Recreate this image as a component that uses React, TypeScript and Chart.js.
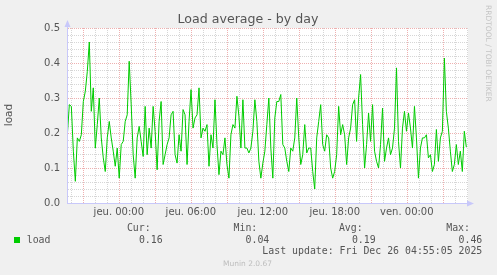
import { useEffect, useRef } from 'react';
import { Chart, registerables } from 'chart.js';

Chart.register(...registerables);

// ---------- data ----------
const TITLE = 'Load average - by day';
const Y_LABEL = 'load';
const SERIES_NAME = 'load';
const WATERMARK = 'RRDTOOL / TOBI OETIKER';
const FOOTER = 'Munin 2.0.67';
const LAST_UPDATE = 'Last update: Fri Dec 26 04:55:05 2025';

// hours relative to "jeu. 00:00"
const X_MIN_HOUR = -4.32;
const X_MAX_HOUR = 29.1;
const FIRST_SAMPLE_HOUR = -4.29;
const SAMPLE_STEP_HOUR = 0.16625;

const LOAD = [
  0.195, 0.281, 0.276, 0.148, 0.062, 0.186, 0.176, 0.195, 0.290, 0.319, 0.376, 0.460, 0.262, 0.329, 0.157, 0.224, 0.300, 0.186, 0.129, 0.090, 0.186, 0.233, 0.186, 0.148, 0.105, 0.157, 0.071, 0.167, 0.176,
  0.233, 0.252, 0.405, 0.281, 0.138, 0.071, 0.186, 0.219, 0.176, 0.133, 0.276, 0.138, 0.214, 0.157, 0.276, 0.205, 0.095, 0.233, 0.290, 0.110, 0.138, 0.167, 0.186, 0.252, 0.262, 0.138, 0.114, 0.195, 0.148,
  0.267, 0.252, 0.110, 0.233, 0.324, 0.214, 0.243, 0.252, 0.329, 0.186, 0.214, 0.205, 0.224, 0.105, 0.195, 0.157, 0.295, 0.167, 0.081, 0.148, 0.138, 0.186, 0.110, 0.071, 0.195, 0.224, 0.214, 0.305, 0.248,
  0.157, 0.295, 0.157, 0.157, 0.143, 0.157, 0.205, 0.295, 0.233, 0.119, 0.071, 0.114, 0.148, 0.224, 0.300, 0.157, 0.071, 0.243, 0.290, 0.290, 0.310, 0.167, 0.157, 0.119, 0.090, 0.157, 0.148, 0.186, 0.300,
  0.186, 0.110, 0.138, 0.224, 0.143, 0.157, 0.157, 0.090, 0.040, 0.186, 0.233, 0.281, 0.167, 0.148, 0.195, 0.186, 0.100, 0.071, 0.090, 0.138, 0.276, 0.195, 0.224, 0.195, 0.110, 0.186, 0.214, 0.281, 0.295,
  0.176, 0.300, 0.367, 0.224, 0.100, 0.167, 0.257, 0.176, 0.281, 0.148, 0.119, 0.100, 0.167, 0.271, 0.119, 0.157, 0.186, 0.138, 0.157, 0.214, 0.386, 0.176, 0.100, 0.214, 0.262, 0.205, 0.257, 0.214, 0.157,
  0.276, 0.186, 0.071, 0.157, 0.186, 0.186, 0.195, 0.129, 0.138, 0.090, 0.110, 0.210, 0.119, 0.186, 0.205, 0.414, 0.262, 0.214, 0.148, 0.090, 0.110, 0.167, 0.110, 0.148, 0.090, 0.205, 0.160,
];

const X_TICK_HOURS = [0, 6, 12, 18, 24];
const X_TICK_LABELS = ['jeu. 00:00', 'jeu. 06:00', 'jeu. 12:00', 'jeu. 18:00', 'ven. 00:00'];
const Y_TICK_VALUES = [0, 0.1, 0.2, 0.3, 0.4, 0.5];
const Y_TICK_LABELS = ['0.0', '0.1', '0.2', '0.3', '0.4', '0.5'];

const STAT_HEADERS = ['Cur:', 'Min:', 'Avg:', 'Max:'];
const STAT_VALUES = ['0.16', '0.04', '0.19', '0.46'];

// ---------- layout / style ----------
const W = 497;
const H = 275;
const BG = '#F0F0F0';
const LINE_COLOR = '#00CC00';
const TEXT = '#555555';
const MAJOR_GRID = '#eeb0b0';
const MINOR_GRID = '#d6d6d6';
const AXIS_COLOR = 'rgb(200,200,250)';
const HEADER_RIGHT_X = [150.7, 257.3, 362.7, 470];
const VALUE_RIGHT_X = [162.7, 269.3, 375.7, 482.3];

const decorPlugin = {
  id: 'muninDecor',
  beforeDraw(chart: any) {
    const { ctx, chartArea: a } = chart;
    ctx.save();
    ctx.fillStyle = BG;
    ctx.fillRect(0, 0, W, H);
    ctx.fillStyle = '#ffffff';
    ctx.fillRect(a.left, a.top, a.right - a.left, a.bottom - a.top);
    ctx.restore();
  },
  beforeDatasetsDraw(chart: any) {
    const { ctx, chartArea: a, scales } = chart;
    const xs = scales.x;
    const ys = scales.y;
    const L = Math.round(a.left);
    const R = Math.round(a.right);
    const T = Math.round(a.top);
    const B = Math.round(a.bottom);
    ctx.save();
    const minorX: number[] = [];
    const majorX: number[] = [];
    for (let h = Math.ceil(X_MIN_HOUR); h <= Math.floor(X_MAX_HOUR); h++) {
      const px = Math.round(xs.getPixelForValue(h));
      if (px <= L || px >= R) continue;
      (((h % 3) + 3) % 3 === 0 ? majorX : minorX).push(px);
    }
    const minorY: number[] = [];
    const majorY: number[] = [];
    for (let i = 1; i <= 25; i++) {
      const py = Math.round(ys.getPixelForValue(i * 0.02));
      (i % 5 === 0 ? majorY : minorY).push(py);
    }
    const drawV = (px: number, color: string) => {
      ctx.fillStyle = color;
      for (let y = B - 1; y >= T; y -= 2) ctx.fillRect(px, y, 1, 1);
    };
    const drawH = (py: number, color: string) => {
      ctx.fillStyle = color;
      for (let x = L + 1; x < R; x += 2) ctx.fillRect(x, py, 1, 1);
    };
    minorX.forEach((p) => drawV(p, MINOR_GRID));
    minorY.forEach((p) => drawH(p, MINOR_GRID));
    majorX.forEach((p) => drawV(p, MAJOR_GRID));
    majorY.forEach((p) => drawH(p, MAJOR_GRID));
    ctx.restore();
  },
  afterDraw(chart: any) {
    const { ctx, chartArea: a } = chart;
    ctx.save();
    // axes
    ctx.strokeStyle = AXIS_COLOR;
    ctx.fillStyle = AXIS_COLOR;
    ctx.lineWidth = 1;
    const L = Math.round(a.left);
    const B = Math.round(a.bottom);
    ctx.beginPath();
    ctx.moveTo(L + 0.5, B + 0.5);
    ctx.lineTo(L + 0.5, a.top - 4);
    ctx.moveTo(L, B + 0.5);
    ctx.lineTo(a.right + 2, B + 0.5);
    ctx.stroke();
    ctx.beginPath();
    ctx.moveTo(L + 0.5, a.top - 8);
    ctx.lineTo(L - 2.5, a.top - 1);
    ctx.lineTo(L + 3.5, a.top - 1);
    ctx.closePath();
    ctx.fill();
    ctx.beginPath();
    ctx.moveTo(a.right + 6, B + 0.5);
    ctx.lineTo(a.right - 1, B - 2.5);
    ctx.lineTo(a.right - 1, B + 3.5);
    ctx.closePath();
    ctx.fill();

    // title
    ctx.fillStyle = TEXT;
    ctx.textAlign = 'center';
    ctx.textBaseline = 'middle';
    ctx.font = '12.6px "DejaVu Sans"';
    ctx.fillText(TITLE, 248, 20);

    // y label
    ctx.save();
    ctx.translate(9, 115);
    ctx.rotate(-Math.PI / 2);
    ctx.font = '10.5px "DejaVu Sans"';
    ctx.fillText(Y_LABEL, 0, 0);
    ctx.restore();

    // watermark
    ctx.save();
    ctx.translate(488, 5);
    ctx.rotate(Math.PI / 2);
    ctx.textAlign = 'left';
    ctx.fillStyle = '#c4c4c4';
    ctx.font = '7.5px "DejaVu Sans"';
    ctx.fillText(WATERMARK, 0, 0);
    ctx.restore();

    // legend
    ctx.font = '9.9px "DejaVu Sans Mono"';
    ctx.fillStyle = TEXT;
    ctx.textAlign = 'right';
    STAT_HEADERS.forEach((h, i) => ctx.fillText(h, HEADER_RIGHT_X[i], 228.5));
    STAT_VALUES.forEach((v, i) => ctx.fillText(v, VALUE_RIGHT_X[i], 240));
    ctx.fillText(LAST_UPDATE, 482.3, 251.5);
    ctx.textAlign = 'left';
    ctx.fillText(SERIES_NAME, 26.7, 240);
    ctx.fillStyle = LINE_COLOR;
    ctx.fillRect(14, 237, 6, 6);

    // footer
    ctx.textAlign = 'center';
    ctx.fillStyle = '#bdbdbd';
    ctx.font = '7.5px "DejaVu Sans"';
    ctx.fillText(FOOTER, 247.5, 264.5);
    ctx.restore();
  },
};

export default function App() {
  const ref = useRef<HTMLCanvasElement | null>(null);

  useEffect(() => {
    document.body.style.margin = '0';
    const canvas = ref.current;
    if (!canvas) return;
    const points = LOAD.map((v, i) => ({ x: FIRST_SAMPLE_HOUR + i * SAMPLE_STEP_HOUR, y: v }));

    const chart = new Chart(canvas, {
      type: 'line',
      data: {
        datasets: [
          {
            label: SERIES_NAME,
            data: points,
            borderColor: LINE_COLOR,
            borderWidth: 1,
            pointRadius: 0,
            tension: 0,
            fill: false,
          },
        ],
      },
      plugins: [decorPlugin],
      options: {
        animation: false,
        responsive: false,
        devicePixelRatio: 1,
        layout: { padding: { left: 0, right: 29, top: 28, bottom: 0 } },
        plugins: {
          legend: { display: false },
          title: { display: false },
          tooltip: { enabled: false },
        },
        scales: {
          x: {
            type: 'linear',
            min: X_MIN_HOUR,
            max: X_MAX_HOUR,
            afterFit: (s: any) => {
              s.height = 72;
            },
            afterBuildTicks: (s: any) => {
              s.ticks = X_TICK_HOURS.map((v) => ({ value: v }));
            },
            grid: { display: false, drawTicks: false },
            border: { display: false },
            ticks: {
              autoSkip: false,
              maxRotation: 0,
              minRotation: 0,
              padding: 3,
              color: TEXT,
              font: { family: '"DejaVu Sans"', size: 10 },
              callback: (v: any) => {
                const idx = X_TICK_HOURS.indexOf(Number(v));
                return idx >= 0 ? X_TICK_LABELS[idx] : '';
              },
            },
          },
          y: {
            type: 'linear',
            min: 0,
            max: 0.5,
            afterFit: (s: any) => {
              s.width = 67;
            },
            afterBuildTicks: (s: any) => {
              s.ticks = Y_TICK_VALUES.map((v) => ({ value: v }));
            },
            grid: { display: false, drawTicks: false },
            border: { display: false },
            ticks: {
              autoSkip: false,
              padding: 7,
              color: TEXT,
              font: { family: '"DejaVu Sans"', size: 10 },
              callback: (v: any) => {
                const idx = Y_TICK_VALUES.findIndex((t) => Math.abs(t - Number(v)) < 1e-6);
                return idx >= 0 ? Y_TICK_LABELS[idx] : '';
              },
            },
          },
        },
      } as any,
    });
    return () => chart.destroy();
  }, []);

  return <canvas ref={ref} width={W} height={H} style={{ display: 'block', width: W, height: H }} />;
}
